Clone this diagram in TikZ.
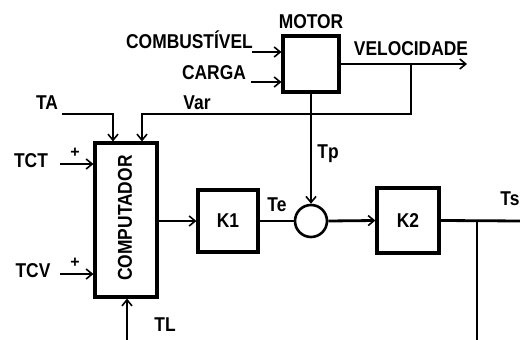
\documentclass[tikz,border=0pt]{standalone}
\usepackage{fontspec}
\setmainfont{Liberation Sans}
\usepackage{graphicx}
\usetikzlibrary{arrows.meta}
\newcommand\sq[1]{\scalebox{0.87}[1]{#1}}
\begin{document}
\begin{tikzpicture}[x=1pt,y=-1pt,
  lbl/.style={font=\fontsize{20}{22}\selectfont\bfseries, inner sep=0pt},
  pls/.style={font=\fontsize{16}{17}\selectfont\bfseries, inner sep=0pt},
  blk/.style={draw, line width=3.2pt, fill=white, inner sep=0pt, font=\fontsize{20}{22}\selectfont\bfseries},
  ln/.style={line width=2.8pt, line join=miter},
  arr/.style={ln, -{Straight Barb[length=6pt,width=10pt,line width=1.6pt]}}]
\useasboundingbox (0,0) rectangle (520,340);
% blocks
\node[blk, minimum width=56pt, minimum height=56pt] (motor) at (311,64) {};
\node[blk, minimum width=62pt, minimum height=154pt] (comp) at (126,220) {};
\node[lbl, rotate=90] (compt) at (125,218) {\sq{COMPUTADOR}};
\node[blk, minimum width=60pt, minimum height=62pt] (k1) at (228,221) {\sq{K1}};
\node[blk, circle, minimum size=32pt, line width=2.6pt] (sum) at (311,221) {};
\node[blk, minimum width=62pt, minimum height=65pt] (k2) at (408,220.5) {\sq{K2}};
% labels
\node[lbl] (lmotor) at (311,22) {\sq{MOTOR}};
\node[lbl, anchor=east] (lcomb) at (253,40) {\sq{COMBUST\'IVEL}};
\node[lbl] (lcarga) at (214,73) {\sq{CARGA}};
\node[lbl] (lvel) at (411,49) {\sq{VELOCIDADE}};
\node[lbl] (lta) at (47,103) {\sq{TA}};
\node[lbl] (lvar) at (197,103) {\sq{Var}};
\node[lbl] (ltct) at (31,161) {\sq{TCT}};
\node[pls] (p1) at (75,153) {+};
\node[lbl] (ltcv) at (33,271) {\sq{TCV}};
\node[pls] (p2) at (75,263) {+};
\node[lbl] (ltp) at (328,154) {\sq{Tp}};
\node[lbl] (lte) at (277,205) {\sq{Te}};
\node[lbl] (lts) at (510,199) {\sq{Ts}};
\node[lbl] (ltl) at (165,325) {\sq{TL}};
% coordinates
\coordinate (cb) at (252,52);
\coordinate (cg) at (251,82);
\coordinate (vend) at (467,64);
\coordinate (vb) at (411,64);
\coordinate (vc) at (411,114);
\coordinate (vl) at (142,114);
\coordinate (ta) at (62,114);
\coordinate (tac) at (113,114);
\coordinate (tct) at (60,164);
\coordinate (tcv) at (60,274);
\coordinate (ts) at (477,221);
\coordinate (tsb) at (477,341);
\coordinate (tlb) at (127,341);
\coordinate (oute) at (522,221);
% connectors
\draw[arr] (cb) -- (cb -| motor.west);
\draw[arr] (cg) -- (cg -| motor.west);
\draw[arr] (motor.east) -- (vend);
\draw[arr] (vb) -- (vc) -- (vl) -- (vl |- comp.north);
\draw[arr] (ta) -- (tac) -- (tac |- comp.north);
\draw[arr] (tct) -- (tct -| comp.west);
\draw[arr] (tcv) -- (tcv -| comp.west);
\draw[arr] (k1.west -| comp.east) -- (k1.west);
\draw[ln] (k1.east) -- (sum.west);
\draw[arr] (sum.east) -- (k2.west);
\draw[arr] (motor.south) -- (sum.north);
\draw[ln] (k2.east) -- (oute);
\draw[arr] (ts) -- (tsb) -- (tlb) -- (tlb |- comp.south);
\end{tikzpicture}
\end{document}
